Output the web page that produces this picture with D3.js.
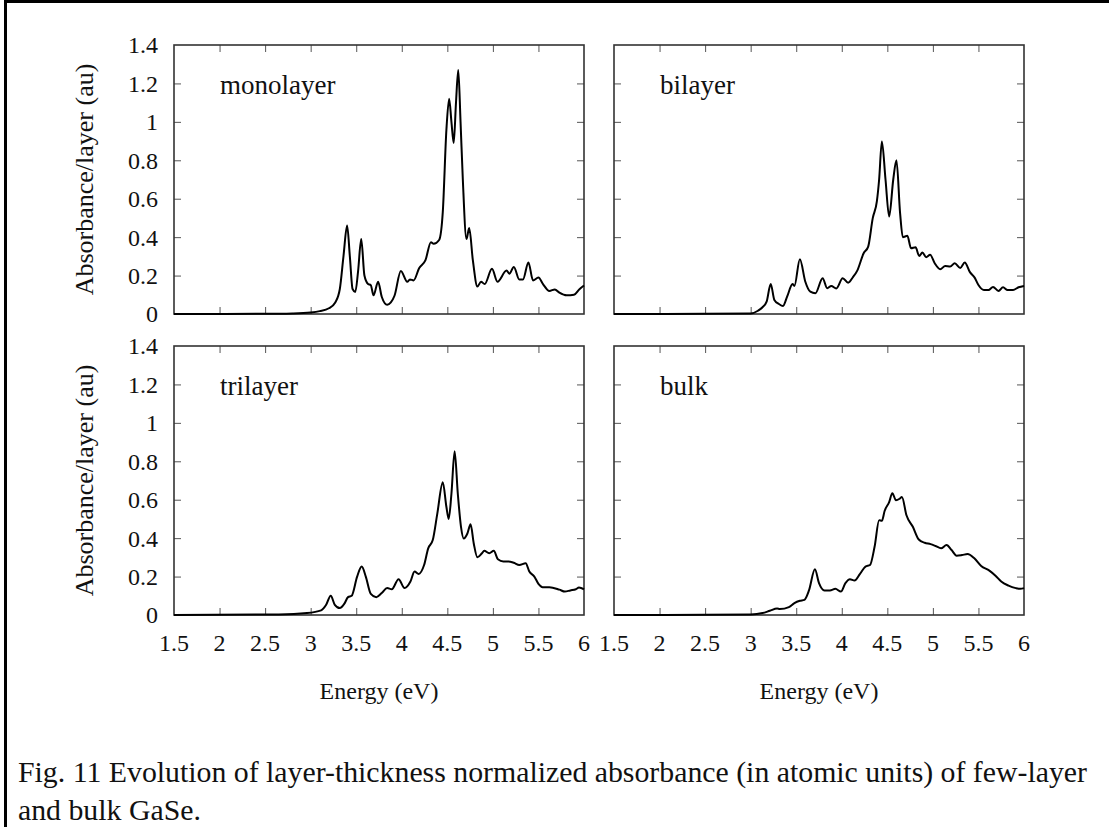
<!DOCTYPE html>
<html>
<head>
<meta charset="utf-8">
<script src="https://cdn.jsdelivr.net/npm/d3@7"></script>
<style>
  body { margin: 0; background: #fff; }
  svg text { font-family: "Liberation Serif", "Times New Roman", serif; fill: #111; }
</style>
</head>
<body>
<svg id="fig" width="1109" height="827"></svg>
<script>
// tick values shared by all panels
var xTicks = [1.5, 2, 2.5, 3, 3.5, 4, 4.5, 5, 5.5, 6];
var yTicks = [0, 0.2, 0.4, 0.6, 0.8, 1, 1.2, 1.4];

var panelNames = ["monolayer", "bilayer", "trilayer", "bulk"];

// monolayer
var monoE = [1.5, 2.5, 2.8, 3.0, 3.1, 3.2, 3.27, 3.32, 3.36, 3.40, 3.43, 3.46, 3.49, 3.52, 3.555, 3.59, 3.63, 3.66, 3.69, 3.74,
             3.78, 3.84, 3.88, 3.92, 3.99, 4.06, 4.09, 4.13, 4.19, 4.26, 4.32, 4.35, 4.41, 4.45, 4.49, 4.52, 4.545, 4.57, 4.595, 4.62,
             4.645, 4.67, 4.71, 4.74, 4.78, 4.83, 4.87, 4.91, 4.99, 5.05, 5.15, 5.18, 5.23, 5.29, 5.33, 5.39, 5.44, 5.50, 5.55, 5.62,
             5.68, 5.73, 5.81, 5.89, 5.95, 6.0];
var monoA = [0, 0.001, 0.003, 0.008, 0.015, 0.03, 0.06, 0.13, 0.3, 0.46, 0.3, 0.13, 0.115, 0.22, 0.39, 0.2, 0.156, 0.15, 0.097, 0.168,
             0.09, 0.048, 0.06, 0.095, 0.224, 0.168, 0.18, 0.175, 0.238, 0.28, 0.374, 0.365, 0.385, 0.53, 0.96, 1.12, 1.0, 0.89, 1.1, 1.27,
             1.0, 0.7, 0.39, 0.447, 0.28, 0.143, 0.168, 0.156, 0.235, 0.168, 0.226, 0.21, 0.245, 0.18, 0.18, 0.268, 0.175, 0.19, 0.156, 0.12,
             0.128, 0.111, 0.097, 0.1, 0.129, 0.148];

// bilayer
var biE = [1.5, 2.5, 3.0, 3.08, 3.13, 3.175, 3.22, 3.26, 3.31, 3.355, 3.40, 3.46, 3.48, 3.54, 3.60, 3.655, 3.71, 3.79, 3.84, 3.885,
           3.94, 4.01, 4.07, 4.12, 4.17, 4.24, 4.29, 4.34, 4.385, 4.41, 4.44, 4.48, 4.52, 4.565, 4.60, 4.64, 4.67, 4.72, 4.76, 4.81,
           4.85, 4.885, 4.925, 4.97, 5.02, 5.08, 5.135, 5.19, 5.24, 5.30, 5.35, 5.405, 5.46, 5.50, 5.56, 5.61, 5.66, 5.72, 5.77, 5.82,
           5.88, 5.94, 6.0];
var biA = [0, 0.001, 0.003, 0.017, 0.035, 0.064, 0.156, 0.073, 0.052, 0.042, 0.09, 0.156, 0.146, 0.285, 0.168, 0.116, 0.108, 0.186, 0.134, 0.146,
           0.133, 0.186, 0.163, 0.19, 0.226, 0.316, 0.351, 0.499, 0.586, 0.70, 0.898, 0.70, 0.507, 0.70, 0.80, 0.525, 0.40, 0.407, 0.342, 0.347,
           0.302, 0.32, 0.296, 0.308, 0.264, 0.233, 0.25, 0.247, 0.264, 0.24, 0.268, 0.219, 0.188, 0.151, 0.125, 0.125, 0.141, 0.12, 0.139, 0.125,
           0.125, 0.139, 0.146];

// trilayer
var triE = [1.5, 2.65, 2.96, 3.115, 3.17, 3.22, 3.265, 3.32, 3.37, 3.41, 3.45, 3.51, 3.56, 3.605, 3.66, 3.72, 3.78, 3.84, 3.89, 3.965,
            4.03, 4.095, 4.14, 4.185, 4.245, 4.29, 4.34, 4.39, 4.45, 4.49, 4.515, 4.545, 4.58, 4.615, 4.65, 4.68, 4.72, 4.755, 4.79, 4.83,
            4.88, 4.905, 4.96, 5.01, 5.055, 5.115, 5.17, 5.23, 5.29, 5.36, 5.40, 5.455, 5.50, 5.545, 5.62, 5.73, 5.79, 5.85, 5.91, 5.945,
            6.0];
var triA = [0, 0.003, 0.01, 0.024, 0.053, 0.10, 0.053, 0.036, 0.059, 0.093, 0.10, 0.20, 0.252, 0.20, 0.11, 0.093, 0.114, 0.14, 0.134, 0.186,
            0.14, 0.174, 0.226, 0.214, 0.26, 0.347, 0.39, 0.528, 0.691, 0.562, 0.50, 0.631, 0.852, 0.631, 0.459, 0.398, 0.424, 0.472, 0.372, 0.30,
            0.321, 0.334, 0.321, 0.334, 0.29, 0.279, 0.279, 0.272, 0.26, 0.269, 0.226, 0.20, 0.162, 0.145, 0.145, 0.132, 0.122, 0.128, 0.134, 0.143,
            0.134];

// bulk
var bulkE = [1.5, 2.5, 3.0, 3.13, 3.21, 3.29, 3.32, 3.42, 3.48, 3.54, 3.59, 3.64, 3.705, 3.75, 3.81, 3.87, 3.93, 3.99, 4.04, 4.09,
             4.14, 4.20, 4.26, 4.31, 4.36, 4.41, 4.44, 4.47, 4.52, 4.555, 4.595, 4.635, 4.66, 4.71, 4.78, 4.845, 4.91, 4.975, 5.03, 5.09,
             5.15, 5.205, 5.26, 5.32, 5.38, 5.455, 5.53, 5.62, 5.69, 5.75, 5.83, 5.91, 5.96, 6.0];
var bulkA = [0, 0.001, 0.003, 0.01, 0.022, 0.034, 0.031, 0.041, 0.062, 0.074, 0.079, 0.128, 0.238, 0.166, 0.128, 0.128, 0.136, 0.122, 0.166, 0.186,
             0.179, 0.214, 0.252, 0.26, 0.355, 0.493, 0.49, 0.541, 0.588, 0.634, 0.597, 0.605, 0.614, 0.519, 0.459, 0.393, 0.376, 0.369, 0.359, 0.347,
             0.364, 0.338, 0.309, 0.312, 0.317, 0.295, 0.255, 0.231, 0.203, 0.174, 0.153, 0.14, 0.136, 0.14];

var panelE = [monoE, biE, triE, bulkE];
var panelA = [monoA, biA, triA, bulkA];

var caption = ["Fig. 11 Evolution of layer-thickness normalized absorbance (in atomic units) of few-layer",
               "and bulk GaSe."];

var svg = d3.select("#fig");

// outer frame of the figure cell (only left and top edges fall inside the picture)
svg.append("rect")
    .attr("x", 5.5).attr("y", 1.5)
    .attr("width", 1200).attr("height", 900)
    .attr("fill", "none")
    .attr("stroke", "#000")
    .attr("stroke-width", 3);

var pw = 410, ph = 269;
var lefts = [174, 614], tops = [45, 346];

var x = d3.scaleLinear().domain([1.5, 6]).range([0, pw]);
var y = d3.scaleLinear().domain([0, 1.4]).range([ph, 0]);

var line = d3.line()
    .x(function(d) { return x(d[0]); })
    .y(function(d) { return y(d[1]); })
    .curve(d3.curveMonotoneX);

panelNames.forEach(function(name, i) {
    var col = i % 2, row = Math.floor(i / 2);
    var g = svg.append("g")
        .attr("transform", "translate(" + lefts[col] + "," + tops[row] + ")");

    var inner = xTicks.slice(1, -1), innerY = yTicks.slice(1, -1);

    // mirrored inward ticks on all four sides
    g.append("g")
        .attr("transform", "translate(0," + ph + ")")
        .call(d3.axisBottom(x).tickValues(inner).tickSizeInner(-7).tickSizeOuter(0).tickFormat(""));
    g.append("g")
        .call(d3.axisTop(x).tickValues(inner).tickSizeInner(-7).tickSizeOuter(0).tickFormat(""));
    g.append("g")
        .call(d3.axisLeft(y).tickValues(innerY).tickSizeInner(-7).tickSizeOuter(0).tickFormat(""));
    g.append("g")
        .attr("transform", "translate(" + pw + ",0)")
        .call(d3.axisRight(y).tickValues(innerY).tickSizeInner(-7).tickSizeOuter(0).tickFormat(""));
    g.selectAll(".domain").remove();
    g.selectAll(".tick line").attr("stroke", "#555").attr("stroke-width", 1);

    // tick labels only on outer sides
    if (col === 0) {
        g.selectAll(".ylab").data(yTicks).enter().append("text")
            .attr("x", -16)
            .attr("y", function(d) { return y(d); })
            .attr("dy", "0.35em")
            .attr("text-anchor", "end")
            .style("font-size", "24px")
            .text(function(d) { return d; });

        g.append("text")
            .attr("transform", "translate(-90," + (ph / 2) + ") rotate(-90)")
            .attr("text-anchor", "middle")
            .attr("dy", "0.35em")
            .style("font-size", "26px")
            .text("Absorbance/layer (au)");
    }
    if (row === 1) {
        g.selectAll(".xlab").data(xTicks).enter().append("text")
            .attr("x", function(d) { return x(d); })
            .attr("y", ph + 36)
            .attr("text-anchor", "middle")
            .style("font-size", "24px")
            .text(function(d) { return d; });

        g.append("text")
            .attr("x", pw / 2)
            .attr("y", ph + 84)
            .attr("text-anchor", "middle")
            .style("font-size", "24px")
            .text("Energy (eV)");
    }

    // plot frame
    g.append("rect")
        .attr("width", pw).attr("height", ph)
        .attr("fill", "none")
        .attr("stroke", "#333")
        .attr("stroke-width", 1.6);

    // spectrum
    g.append("path")
        .datum(d3.zip(panelE[i], panelA[i]))
        .attr("d", line)
        .attr("fill", "none")
        .attr("stroke", "#000")
        .attr("stroke-width", 2);

    g.append("text")
        .attr("x", 46)
        .attr("y", 40)
        .attr("dy", "0.35em")
        .style("font-size", "27px")
        .text(name);
});

// caption under the figure
svg.selectAll(".cap").data(caption).enter().append("text")
    .attr("x", 18)
    .attr("y", function(d, i) { return 782 + i * 38; })
    .style("font-size", "29.8px")
    .text(function(d) { return d; });
</script>
</body>
</html>
